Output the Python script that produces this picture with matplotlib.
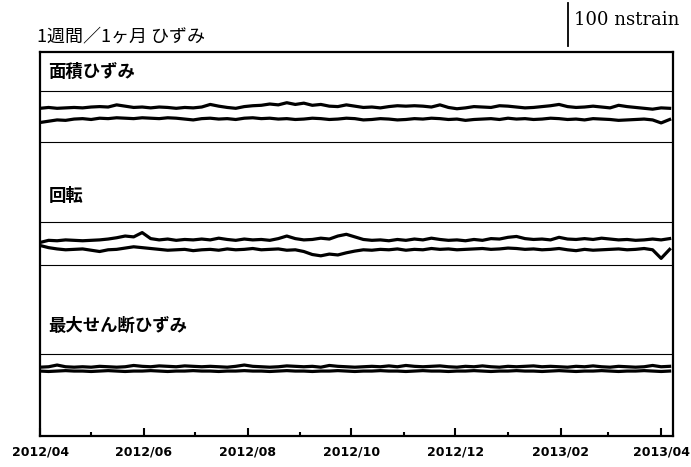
import numpy as np
import pandas as pd
import matplotlib
matplotlib.use('Agg')
import matplotlib.pyplot as plt
import matplotlib.dates as mdates

plt.rcParams['font.family'] = ['Noto Sans CJK JP', 'DejaVu Sans']

# データ（5日ごと、nstrain、各パネル中心からの偏差）
dates = pd.date_range('2012-04-01', periods=75, freq='5D')

# 面積ひずみ
area_1 = [0, 2, 0, 1, 2, 1, 3, 4, 3, 8, 5, 2, 3, 1, 3, 2, 0, 2, 1, 3,
          9, 5, 2, 0, 4, 6, 7, 10, 8, 13, 9, 12, 7, 9, 5, 4, 8, 5, 2, 3,
          1, 4, 6, 5, 6, 5, 3, 8, 2, -1, 1, 4, 3, 2, 6, 5, 3, 1, 2, 4,
          6, 9, 4, 2, 3, 5, 3, 1, 7, 4, 2, 0, -2, 1, 0]
area_2 = [-8, -5, -2, -3, 0, 1, -1, 2, 1, 3, 2, 1, 3, 2, 1, 3, 2, 0, -2, 1,
          2, 0, 1, -1, 2, 3, 1, 2, 0, 1, -1, 0, 2, 1, -1, 0, 2, 1, -2, -1,
          1, 0, -2, -1, 1, 0, 2, 1, -1, 0, -3, -1, 0, 1, -1, 2, 0, 1, -1, 0,
          2, 1, -1, 0, -2, 1, 0, -1, -3, -2, -1, 0, -2, -9, -1]
# 回転
rot_1 = [-3, 2, 1, 3, 2, 1, 2, 3, 5, 8, 12, 10, 20, 6, 3, 5, 2, 4, 3, 5,
         3, 7, 4, 2, 5, 3, 4, 2, 6, 12, 6, 3, 4, 7, 5, 12, 16, 10, 4, 2,
         3, 1, 4, 2, 5, 3, 7, 4, 2, 3, 1, 4, 2, 6, 5, 9, 11, 6, 4, 5,
         3, 9, 5, 4, 6, 4, 7, 5, 3, 4, 2, 3, 5, 3, 6]
rot_2 = [8, 3, 0, -2, -1, 0, -3, -6, -2, -1, 2, 5, 3, 1, -1, -3, -2, -1, -4, -2,
         -1, -3, 0, -2, -1, 1, -2, -1, 0, -3, -2, -6, -13, -16, -12, -14, -9, -5, -2, -3,
         -1, -2, 0, -3, -1, -2, 1, -1, 0, -2, -1, 0, 1, -1, 0, 2, 1, -1, 0, -2,
         -1, 1, -2, -4, -1, -3, -2, -1, 0, -2, -1, 1, -2, -22, -1]
# 最大せん断ひずみ
shear_1 = [0, 1, 5, 1, 0, 1, 0, 2, 1, 0, 1, 4, 2, 1, 3, 2, 1, 3, 2, 1,
           2, 1, 0, 2, 5, 2, 1, 0, 1, 3, 2, 1, 2, 0, 4, 2, 1, 0, 1, 2,
           1, 3, 1, 4, 2, 1, 2, 3, 1, 0, 2, 1, 3, 1, 0, 2, 1, 2, 3, 1,
           2, 1, 0, 2, 1, 3, 1, 0, 2, 1, 0, 1, 4, 1, 2]
shear_2 = [0, -1, 0, 1, 0, 0, -1, 0, 1, 0, -1, 0, 0, 1, 0, -1, 0, 0, 1, 0,
           0, -1, 0, 0, 1, 0, 0, -1, 0, 1, 0, 0, -1, 0, 0, 1, 0, -1, 0, 0,
           1, 0, 0, -1, 0, 1, 0, 0, -1, 0, 0, 1, 0, -1, 0, 0, 1, 0, 0, -1,
           0, 1, 0, -1, 0, 0, 1, 0, -1, 0, 0, 1, 0, -1, 0]

# パネル: (ラベル, 系列, 中心, 参照線, ラベル位置)
panels = [
    ('面積ひずみ', [area_1, area_2], [762, 737], [802, 684], 847),
    ('回転', [rot_1, rot_2], [453, 435], [498, 398], 558),
    ('最大せん断ひずみ', [shear_1, shear_2], [160, 151], [191], 256),
]

fig = plt.figure(figsize=(6.91, 4.67), dpi=100)
ax = fig.add_axes([0.058, 0.0664, 0.916, 0.8223])

for label, series, centers, refs, ylab in panels:
    for s, c in zip(series, centers):
        ax.plot(dates, np.array(s) + c, color='black', lw=2.3)
    for r in refs:
        ax.axhline(r, color='black', lw=0.8)
    ax.text(pd.Timestamp('2012-04-06'), ylab, label, fontsize=12.5,
            fontweight='bold', va='center', ha='left')

ax.set_xlim(pd.Timestamp('2012-04-01'), pd.Timestamp('2013-04-08'))
ax.set_ylim(0, 893)
ax.set_yticks([])

ax.xaxis.set_major_locator(mdates.MonthLocator(bymonth=[2, 4, 6, 8, 10, 12]))
ax.xaxis.set_minor_locator(mdates.MonthLocator(bymonth=[1, 3, 5, 7, 9, 11]))
ax.xaxis.set_major_formatter(mdates.DateFormatter('%Y/%m'))
ax.tick_params(axis='x', which='major', direction='in', length=6, width=1.5, pad=7)
ax.tick_params(axis='x', which='minor', direction='in', length=3, width=1.5)
for lab in ax.get_xticklabels():
    lab.set_fontfamily('DejaVu Sans')
    lab.set_fontweight('bold')
    lab.set_fontsize(9)
for sp in ax.spines.values():
    sp.set_linewidth(1.6)

# タイトルとスケールバー
fig.text(0.053, 0.922, '1週間／1ヶ月 ひずみ', fontsize=13, va='center', ha='left',
         family=['Noto Sans CJK JP', 'DejaVu Sans'])
bar_x = pd.Timestamp('2013-02-05')
ax.plot([bar_x, bar_x], [907, 1007], color='black', lw=1.3, clip_on=False)
ax.text(pd.Timestamp('2013-02-09'), 967, '100 nstrain', fontsize=13,
        family='DejaVu Serif', va='center', ha='left', clip_on=False)

plt.savefig('out.png', dpi=100)
